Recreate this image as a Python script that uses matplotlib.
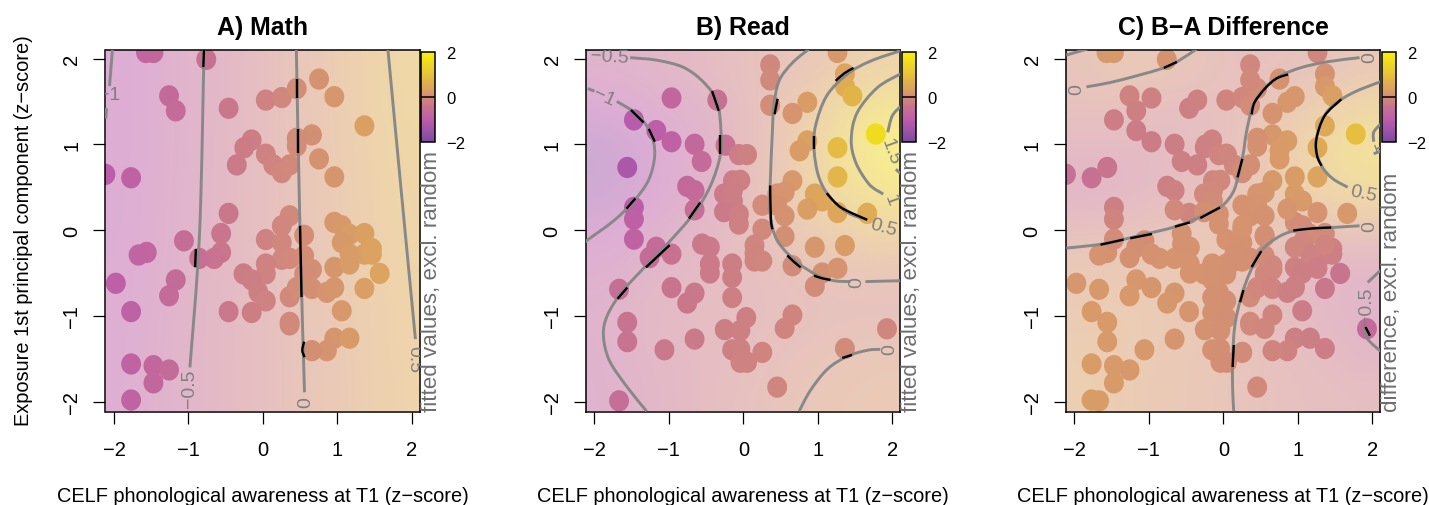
import numpy as np
import matplotlib
matplotlib.use("Agg")
import matplotlib.pyplot as plt
from matplotlib.colors import LinearSegmentedColormap, Normalize
from matplotlib.cm import ScalarMappable
from matplotlib.markers import MarkerStyle
from matplotlib.path import Path
from matplotlib.patches import PathPatch
from matplotlib.transforms import Affine2D

plt.rcParams['font.family'] = ['Liberation Sans', 'DejaVu Sans']

W, H = 1429, 506
titles = ["A) Math", "B) Read", "C) B\u2212A Difference"]
side_labels = ["fitted values, excl. random", "fitted values, excl. random", "difference, excl. random"]
x_label = "CELF phonological awareness at T1 (z\u2212score)"
y_label = "Exposure 1st principal component (z\u2212score)"
ticks = [-2, -1, 0, 1, 2]

grid_x = [-2.11, -1.58, -1.05, -0.53, 0, 0.53, 1.05, 1.58, 2.11]
grid_y_a = [2.11, 1.0, 0.0, -1.0, -2.11]
grid_y = [2.11, 1.58, 1.05, 0.53, 0, -0.53, -1.05, -1.58, -2.11]

field_a = [
    [-1.03, -.81, -.60, -.40, -.18, .03, .25, .46, .68],
    [-1.02, -.80, -.57, -.37, -.175, .02, .22, .42, .61],
    [-.98, -.77, -.55, -.36, -.18, .01, .19, .37, .56],
    [-.94, -.73, -.53, -.34, -.18, -.01, .16, .34, .52],
    [-.90, -.70, -.50, -.33, -.18, -.02, .15, .31, .47],
]
field_b = [
    [-.65, -.55, -.42, -.30, -.10, -.05, .10, .30, .50],
    [-1.05, -.93, -.68, -.52, -.18, .06, .42, .92, 1.25],
    [-1.50, -1.25, -.85, -.62, -.20, .10, .60, 1.15, 1.65],
    [-1.45, -1.20, -.85, -.58, -.18, .12, .55, .90, 1.30],
    [-1.05, -.85, -.58, -.40, -.15, .04, .25, .45, .60],
    [-.80, -.60, -.40, -.30, -.20, -.10, .00, .05, .08],
    [-.65, -.42, -.32, -.25, -.20, -.15, -.12, -.10, -.12],
    [-.70, -.48, -.35, -.25, -.18, -.10, -.02, .05, .08],
    [-.72, -.55, -.40, -.25, -.12, -.03, .07, .12, .15],
]
field_c = [
    [-.01, .12, .12, .03, -.10, -.15, -.10, -.05, .08],
    [-.08, -.10, -.18, -.20, -.15, .03, .20, .42, .68],
    [-.35, -.35, -.33, -.25, -.15, .12, .38, .85, 1.10],
    [-.55, -.45, -.30, -.20, -.10, .18, .32, .60, .85],
    [-.10, -.07, -.03, .08, .12, .12, .00, .02, .05],
    [.15, .15, .15, .18, .08, -.10, -.25, -.40, -.50],
    [.22, .25, .22, .15, .06, -.10, -.25, -.40, -.60],
    [.28, .25, .20, .12, .05, -.08, -.20, -.30, -.45],
    [.30, .25, .18, .10, .03, -.08, -.14, -.18, -.22],
]

a_x = [-1.57,-1.47,-.76,-1.26,-1.17,-.46,.04,.255,.455,.755,.96,1.365,.66,.455,.455,-.15,-.25,-.35,.04,.14,.255,.36,.755,.96,-1.77,-2.115,-.46,.36,.255,-.56,-1.06,-.56,-.655,-.855,-1.56,-1.67,.04,.255,.555,.255,.365,.555,.04,.04,-.26,-.15,-.06,.04,.36,.455,.66,.555,.66,.86,.96,.96,.96,1.06,1.165,1.06,1.365,1.365,1.465,1.465,1.165,1.165,1.57,1.365,1.06,.96,1.165,.86,.66,.36,.36,-.15,-.46,-1.17,-1.26,-1.975,-1.77,-1.77,-1.47,-1.26,-1.47,-1.77]
a_y = [2.07,2.07,1.99,1.565,1.39,1.42,1.515,1.545,1.65,1.76,1.555,1.215,1.11,1.07,.98,1.05,.96,.76,.885,.76,.67,.76,.83,.62,.61,.65,.195,.167,.05,-.04,-.125,-.26,-.33,-.33,-.26,-.29,-.11,-.145,-.06,-.34,-.33,-.3,-.395,-.51,-.51,-.58,-.725,-.825,-.777,-.67,-.46,-.51,-.68,-.725,-.67,-.435,.09,.05,-.05,-.145,-.04,-.28,-.215,-.28,-.395,-.28,-.505,-.68,-.94,-1.26,-1.26,-1.405,-1.405,-1.075,-1.105,-.96,-.95,-.58,-.765,-.62,-.95,-1.56,-1.58,-1.63,-1.78,-1.98]
a_z = [-.76,-.72,-.46,-.65,-.61,-.35,-.16,-.08,0,.10,.18,.33,.06,0,0,-.24,-.27,-.31,-.17,-.13,-.09,-.05,.10,.17,-.83,-.97,-.35,-.05,-.09,-.39,-.57,-.39,-.42,-.50,-.75,-.80,-.17,-.09,.02,-.09,-.05,.02,-.17,-.17,-.27,-.23,-.20,-.17,-.05,-.01,.06,.02,.06,.13,.17,.17,.18,.21,.25,.21,.32,.32,.36,.36,.25,.25,.40,.32,.20,.16,.24,.12,.05,-.05,-.05,-.23,-.34,-.60,-.64,-.90,-.83,-.82,-.71,-.63,-.71,-.82]

b_x = [1.265,.36,.36,1.365,1.365,1.465,-.35,-.965,.86,.36,.66,-1.47,-1.17,-.965,-.655,-.24,-.56,-.06,.05,1.78,.86,.755,1.265,1.265,-1.56,-.14,-.04,-.755,-.655,.66,-.26,-.14,-.14,.455,.555,.96,1.06,.255,.455,.555,.86,1.265,1.665,-1.47,-1.47,-.655,-.26,-.06,-.06,.255,.555,-1.47,-1.17,-1.26,-.965,-.555,-.45,.15,.15,.15,.255,.96,1.365,-.45,-.45,-.15,-.15,.66,1.06,1.265,.96,-.965,-.655,-.755,-.15,-1.67,-1.56,-1.56,-1.06,-.655,.04,.66,.555,-.25,-.04,1.93,-.15,-.04,.255,1.365,-.04,.05,.455,-1.67]
b_y = [2.07,1.925,1.75,1.82,1.675,1.565,1.515,1.54,1.49,1.455,1.36,1.285,1.16,1.03,1.0,.99,.8,.88,.88,1.12,1.04,.925,.96,.62,.73,.575,.58,.51,.46,.575,.42,.46,.34,.42,.44,.42,.34,.29,.29,.167,.245,.205,.195,.265,.128,.237,.215,.186,.07,.01,-.074,-.105,-.2,-.32,-.28,-.163,-.2,-.175,-.27,-.36,-.36,-.2,-.18,-.395,-.5,-.395,-.55,-.415,-.5,-.445,-.655,-.67,-.735,-.85,-.785,-.69,-1.075,-1.3,-1.395,-1.27,-1.02,-.99,-1.145,-1.16,-1.17,-1.15,-1.395,-1.387,-1.425,-1.38,-1.54,-1.54,-1.83,-1.99]
b_z = [.2,-.08,-.05,.4,.55,.72,-.48,-.72,.28,0,.15,-1.05,-.95,-.85,-.7,-.45,-.62,-.25,-.18,1.55,.35,.28,.85,.75,-1.25,-.25,-.2,-.7,-.65,.2,-.3,-.25,-.22,.1,.15,.42,.45,0,.08,.1,.3,.45,.55,-.98,-.9,-.55,-.3,-.2,-.18,-.05,.05,-.85,-.62,-.6,-.45,-.33,-.3,-.1,-.12,-.13,-.1,.18,.28,-.3,-.3,-.22,-.22,-.02,.08,.12,0,-.4,-.33,-.35,-.2,-.55,-.42,-.42,-.33,-.3,-.2,-.12,-.13,-.22,-.2,-.1,-.2,-.18,-.14,-.02,-.17,-.16,-.1,-.55]

c_z_a = [.2,.2,.1,-.15,-.2,-.2,-.12,-.08,.03,.1,.18,.5,.18,.08,.08,-.17,-.18,-.2,-.1,-.07,.02,.06,.22,.28,-.48,-.5,-.12,.1,.12,.1,.02,.12,.13,.14,.1,.12,.12,.1,.06,.08,.05,-.02,.08,.08,.14,.1,.08,.06,-.03,-.08,-.1,-.08,-.14,-.2,-.22,-.18,.03,0,-.03,-.08,-.03,-.18,-.17,-.2,-.22,-.17,-.4,-.35,-.27,-.2,-.23,-.15,-.12,-.05,-.05,.08,.15,.18,.2,.18,.22,.25,.22,.2,.22,.25]
c_z_b = [-.1,-.08,-.06,.1,.2,.32,-.18,-.18,.18,0,.12,-.25,-.28,-.28,-.25,-.18,-.2,-.13,-.1,.95,.26,.22,.5,.42,-.42,-.1,-.08,-.2,-.18,.2,-.06,-.06,-.03,.15,.17,.25,.22,.1,.12,.1,.15,.12,.2,-.2,-.12,-.05,.05,.08,.1,.12,.05,0,.05,.08,.1,.1,.1,.1,.08,.07,.07,-.1,-.13,.12,.12,.1,.1,-.08,-.22,-.25,-.2,.16,.16,.18,.08,.2,.22,.23,.2,.15,.05,-.12,-.1,.1,.07,-.65,.08,.05,-.02,-.25,.05,.03,-.06,.25]

# contour lines: (x list, y list)
lines_a = [
    ([-2.02, -2.06], [2.11, 1.68]),
    ([-.79, -.85, -.98], [2.11, -.03, -1.6]),
    ([.45, .50, .56], [2.11, -.03, -1.89]),
    ([1.68, 1.87, 2.05], [2.11, .36, -1.27]),
    ([-2.10, -2.11], [1.42, 1.3]),
]
black_a = [
    ([-.79, -.80], [2.11, 1.9]),
    ([.455, .455], [1.76, 1.535]),
    ([.47, .47], [1.18, .9]),
    ([.50, .52], [.05, -.78]),
    ([-.90, -.91], [-.22, -.43]),
    ([.555, .53, .56], [-1.3, -1.4, -1.48]),
]
labels_a = [("\u22120.5", -.98, -1.84, 90), ("0", .57, -2.0, 90), ("0.5", 2.03, -1.5, -90), ("\u22121", -2.06, 1.58, 0)]

lines_b = [
    ([-2.09, -2.0], [1.65, 1.62]),
    ([-1.7, -1.43, -1.25, -1.19, -1.27, -1.47, -1.74, -2.07, -2.11], [1.5, 1.35, 1.14, .885, .59, .34, .11, -.1, -.13]),
    ([-1.52, -1.16, -.8, -.53, -.35, -.3, -.31, -.44, -.66, -1.02, -1.33, -1.64, -1.83, -1.88, -1.8, -1.56, -1.3], [2.01, 1.98, 1.895, 1.72, 1.49, 1.14, .87, .52, .2, -.16, -.435, -.73, -1.0, -1.23, -1.52, -1.83, -2.11]),
    ([.88, .66, .48, .41, .39, .36, .36, .41, .52, .73, 1.0, 1.22, 1.44], [2.11, 1.95, 1.74, 1.45, 1.14, .52, .2, -.03, -.2, -.38, -.53, -.59, -.6]),
    ([1.64, 2.11], [-.6, -.59]),
    ([.75, .9, 1.13, 1.4, 1.67, 1.84], [-2.11, -1.87, -1.62, -1.47, -1.4, -1.39]),
    ([2.11, 1.71, 1.4, 1.12, .97, .95, 1.01, 1.15, 1.4, 1.665], [2.09, 1.97, 1.82, 1.565, 1.215, .94, .63, .4, .205, .12]),
    ([2.11, 1.8, 1.53, 1.45, 1.51, 1.69, 1.88], [1.82, 1.66, 1.37, 1.06, .79, .535, .42]),
    ([2.11, 2.0, 1.94], [1.44, 1.33, 1.14]),
    ([2.05, 2.11], [.71, .66]),
]
black_b = [
    ([-1.51, -1.34], [1.40, 1.255]),
    ([-1.27, -1.19], [1.18, 1.03]),
    ([-.42, -.33], [1.62, 1.39]),
    ([-.31, -.31], [1.11, .885]),
    ([-1.45, -1.57], [.37, .25]),
    ([-.58, -.73], [.32, .135]),
    ([-.99, -1.31], [-.175, -.435]),
    ([-1.56, -1.69], [-.67, -.8]),
    ([.46, .42], [1.53, 1.35]),
    ([.36, .37, .39], [.52, .13, .01]),
    ([.59, .68, .77], [-.295, -.37, -.435]),
    ([.95, 1.05, 1.17], [-.53, -.56, -.58]),
    ([1.24, 1.36, 1.48], [1.74, 1.83, 1.89]),
    ([.95, .95], [1.1, .94]),
    ([1.12, 1.31, 1.665], [.43, .265, .12]),
    ([1.33, 1.46], [-1.49, -1.455]),
]
labels_b = [("\u22120.5", -1.8, 2.02, -3), ("\u22121", -1.87, 1.56, -25), ("0", 1.52, -.6, 90), ("0", 1.97, -1.38, 90),
            ("0.5", 1.88, .04, -15), ("1", 1.98, .36, -70), ("1.5", 1.98, .92, -70)]

lines_c = [
    ([-2.11, -1.83], [2.04, 2.11]),
    ([-1.84, -1.52, -1.16, -.8, -.625, -.36], [1.67, 1.72, 1.80, 1.89, 1.96, 2.11]),
    ([-2.11, -1.61, -1.16, -.625, -.27, -.02, .13, .2, .27, .31, .4, .56, .76, 1.03, 1.38, 1.83], [-.21, -.16, -.07, .045, .17, .28, .44, .63, .905, 1.14, 1.45, 1.66, 1.795, 1.89, 1.96, 2.01]),
    ([1.83, 1.45, 1.03, .76, .51, .36, .245, .155, .125, .125, .14], [.05, .03, .005, -.07, -.24, -.49, -.76, -1.11, -1.5, -1.85, -2.11]),
    ([2.11, 1.74, 1.47, 1.32, 1.24, 1.32, 1.47, 1.67], [1.73, 1.6, 1.45, 1.27, .98, .75, .6, .5]),
    ([2.11, 2.02, 2.02], [1.235, 1.14, 1.03]),
    ([2.02, 2.11], [.89, .92]),
    ([2.11, 1.94], [-.47, -.61]),
    ([1.9, 1.94, 2.11], [-1.13, -1.27, -1.41]),
]
black_c = [
    ([-.8, -.625], [1.89, 1.96]),
    ([-1.65, -1.34], [-.17, -.11]),
    ([-1.25, -.96], [-.095, -.045]),
    ([-.65, -.45], [.04, .09]),
    ([-.31, -.045], [.14, .265]),
    ([.19, .255], [.615, .83]),
    ([.38, .42, .56, .71, .87], [1.35, 1.49, 1.65, 1.765, 1.815]),
    ([.94, 1.2, 1.45], [-.005, .02, .03]),
    ([.51, .38], [-.245, -.43]),
    ([.27, .225], [-.7, -.84]),
    ([.14, .125], [-1.34, -1.595]),
    ([1.585, 1.36, 1.25, 1.26, 1.32], [1.525, 1.33, 1.06, .865, .75]),
    ([1.91, 1.97], [-1.13, -1.23]),
]
labels_c = [("0", -1.97, 1.65, 90), ("0", 1.97, 2.02, 90), ("0", 1.97, .05, 90), ("0.5", 1.88, .43, -12),
            ("\u22120.5", 1.92, -.88, 90), ("1", 2.07, .97, -70)]

cmap = LinearSegmentedColormap.from_list("fx", [
    (0.0, "#7b4ba0"), (0.25, "#bc5cab"), (0.40, "#c8748e"), (0.5, "#d28c78"),
    (0.6, "#dca45e"), (0.75, "#e6c23a"), (1.0, "#f8f00a")])
norm = Normalize(-2, 2)

fig = plt.figure(figsize=(W / 100, H / 100), dpi=100)
lefts = [105.5, 586, 1066]
top_px, bottom_px, width_px = 50.5, 412.5, 314
GREY = "#888888"
TEXTGREY = "#6e6e6e"
marker = MarkerStyle('o', transform=Affine2D().scale(1, 1.07))


def smooth(xs, ys):
    pts = np.column_stack([xs, ys]).astype(float)
    if len(pts) == 2:
        return Path(pts)
    verts, codes = [pts[0]], [Path.MOVETO]
    for i in range(len(pts) - 1):
        p0 = pts[max(i - 1, 0)]
        p1, p2 = pts[i], pts[i + 1]
        p3 = pts[min(i + 2, len(pts) - 1)]
        verts += [p1 + (p2 - p0) / 6, p2 - (p3 - p1) / 6, p2]
        codes += [Path.CURVE4] * 3
    return Path(verts, codes)


panels = [
    (field_a, grid_y_a, a_x, a_y, a_z, lines_a, black_a, labels_a),
    (field_b, grid_y, b_x, b_y, b_z, lines_b, black_b, labels_b),
    (field_c, grid_y, a_x + b_x, a_y + b_y, c_z_a + c_z_b, lines_c, black_c, labels_c),
]

for i, (field, gy, px, py, pz, lines, blacks, labs) in enumerate(panels):
    left = lefts[i]
    ax = fig.add_axes([left / W, 1 - bottom_px / H, width_px / W, (bottom_px - top_px) / H])
    ax.imshow(np.array(field), extent=[-2.11, 2.11, -2.11, 2.11], cmap=cmap, norm=norm, alpha=0.5,
              interpolation='bicubic', interpolation_stage='data', aspect='auto', zorder=1)
    ax.scatter(px, py, c=pz, cmap=cmap, norm=norm, s=205, marker=marker, linewidths=0, zorder=2)
    for xs, ys in lines:
        ax.add_patch(PathPatch(smooth(xs, ys), fill=False, ec=GREY, lw=2.1, capstyle='butt', zorder=3))
    for xs, ys in blacks:
        ax.add_patch(PathPatch(smooth(xs, ys), fill=False, ec="black", lw=1.7, capstyle='butt', zorder=4))
    for s, x, y, rot in labs:
        ax.text(x, y, s, color="#808080", fontsize=14, rotation=rot, ha='center', va='center',
                rotation_mode='anchor', clip_on=True, zorder=5)
    ax.set_xlim(-2.114, 2.105)
    ax.set_ylim(-2.114, 2.105)
    ax.set_xticks(ticks)
    ax.set_yticks(ticks)
    ax.set_xticklabels([f"\u2212{abs(t)}" if t < 0 else str(t) for t in ticks])
    ax.set_yticklabels([f"\u2212{abs(t)}" if t < 0 else str(t) for t in ticks], rotation=90, va='center')
    ax.tick_params(axis='both', length=8.6, width=0.9, labelsize=14.5)
    ax.tick_params(axis='y', pad=9)
    ax.tick_params(axis='x', pad=12)
    for sp in ax.spines.values():
        sp.set_linewidth(1.1)
    fig.text((left + 157) / W, 1 - 27.5 / H, titles[i], fontsize=17.9, fontweight='bold', ha='center', va='center')
    fig.text((left + 157) / W, 1 - 497 / H, x_label, fontsize=14.4, ha='center', va='center')
    fig.text((left + 326) / W, 1 - 412 / H, side_labels[i], fontsize=16.1, color=TEXTGREY,
             rotation=90, ha='center', va='bottom')

    cax = fig.add_axes([(left + 315.5) / W, 1 - 143.3 / H, 14.5 / W, 90.6 / H])
    cb = fig.colorbar(ScalarMappable(norm=norm, cmap=cmap), cax=cax, ticks=[-2, 0, 2])
    cb.ax.tick_params(length=0, labelsize=12, pad=8)
    cb.outline.set_linewidth(1.1)
    cb.ax.axhline(0, color="black", lw=1.1)

fig.text(24 / W, 1 - 231 / H, y_label, fontsize=14.4, rotation=90, ha='center', va='center')
fig.savefig("out.png", dpi=100)
